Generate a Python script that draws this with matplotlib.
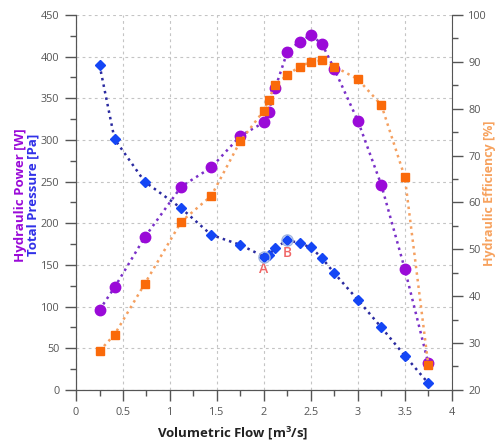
import matplotlib
matplotlib.use('Agg')
import matplotlib.pyplot as plt
from matplotlib.ticker import MultipleLocator

plt.rcParams['font.family'] = ['Open Sans', 'DejaVu Sans']
plt.rcParams['mathtext.fontset'] = 'custom'
plt.rcParams['mathtext.rm'] = 'Open Sans'
plt.rcParams['mathtext.bf'] = 'Open Sans:bold'

# volumetric flow [m3/s]
flow = [0.25, 0.41, 0.73, 1.12, 1.44, 1.75, 2.0, 2.05, 2.12, 2.25,
        2.38, 2.5, 2.62, 2.75, 3.0, 3.25, 3.5, 3.75]
# total pressure [Pa]
pressure = [390, 301, 250, 218, 186, 174, 160, 162, 170, 180,
            176, 171, 158, 140, 108, 75, 41, 8]
# hydraulic power [W]
power = [96, 123, 183, 244, 267, 305, 321, 334, 362, 406,
         418, 426, 415, 385, 323, 246, 145, 32]
# hydraulic efficiency [%]
efficiency = [28.3, 31.8, 42.6, 55.9, 61.4, 73.1, 79.6, 81.9, 85.1, 87.2,
              89.0, 90.0, 90.3, 89.0, 86.3, 80.8, 65.4, 25.3]

# marked points and where their letters sit
mark_names = ['A', 'B']
mark_flow = [2.0, 2.25]
mark_pressure = [160, 180]
mark_text_y = [145, 164]

purple = '#9a0ad8'
blue = '#1446f5'
orange = '#fa6a0a'
grey = '#555555'

fig = plt.figure(figsize=(4.97, 4.41), dpi=100)
ax = fig.add_axes([0.153, 0.116, 0.756, 0.85])
ax2 = ax.twinx()

ax.set_xlim(0, 4)
ax.set_ylim(0, 450)
ax2.set_ylim(20, 100)

# grid
ax.grid(True, which='major', color='#c4c4c4', linestyle=(0, (2.5, 3)), linewidth=0.8)
ax.set_axisbelow(True)

ax.plot(flow, power, linestyle=':', color='#7a30c8', linewidth=1.8,
        marker='o', markersize=7.5, markerfacecolor=purple, markeredgecolor=purple, zorder=3)
ax.plot(flow, pressure, linestyle=':', color='#2a2aa0', linewidth=1.8,
        marker='D', markersize=5, markerfacecolor=blue, markeredgecolor=blue, zorder=4)
ax.plot(mark_flow, mark_pressure, linestyle='none', marker='o', markersize=8,
        markerfacecolor='none', markeredgecolor='#9fb4e0', markeredgewidth=1, zorder=5)
for name, fx, ty in zip(mark_names, mark_flow, mark_text_y):
    ax.text(fx, ty, name, color='#f06666', fontsize=10, fontweight='semibold',
            ha='center', va='center')

ax2.plot(flow, efficiency, linestyle=':', color='#f5a060', linewidth=1.8,
         marker='s', markersize=6, markerfacecolor=orange, markeredgecolor=orange, zorder=3)

# ticks
ax.xaxis.set_major_locator(MultipleLocator(0.5))
ax.xaxis.set_minor_locator(MultipleLocator(0.25))
ax.yaxis.set_major_locator(MultipleLocator(50))
ax.yaxis.set_minor_locator(MultipleLocator(25))
ax2.yaxis.set_major_locator(MultipleLocator(10))
ax2.yaxis.set_minor_locator(MultipleLocator(5))
ax.xaxis.set_major_formatter(plt.FuncFormatter(lambda v, p: f'{v:g}'))

for a in (ax, ax2):
    a.tick_params(which='major', length=8, width=1, color=grey, labelcolor=grey,
                  labelsize=7.8, pad=4)
    a.tick_params(which='minor', length=4.5, width=1, color=grey)
    for s in a.spines.values():
        s.set_color(grey)
    a.spines['top'].set_visible(False)
ax.spines['right'].set_visible(False)

ax.set_xlabel(r'Volumetric Flow [m$^\mathbf{3}$/s]', fontsize=9.5, fontweight='bold',
              color='#222222')
ax.xaxis.set_label_coords(0.418, -0.093)
ax.text(-0.149, 0.52, 'Hydraulic Power [W]', transform=ax.transAxes, rotation=90,
        ha='center', va='center', color=purple, fontsize=9.5, fontweight='bold')
ax.text(-0.114, 0.52, 'Total Pressure [Pa]', transform=ax.transAxes, rotation=90,
        ha='center', va='center', color='#3030e8', fontsize=9.5, fontweight='bold')
ax2.text(1.101, 0.525, 'Hydraulic Efficiency [%]', transform=ax2.transAxes, rotation=90,
         ha='center', va='center', color='#f7a25e', fontsize=9, fontweight='bold')

fig.savefig('out.png', dpi=100)
